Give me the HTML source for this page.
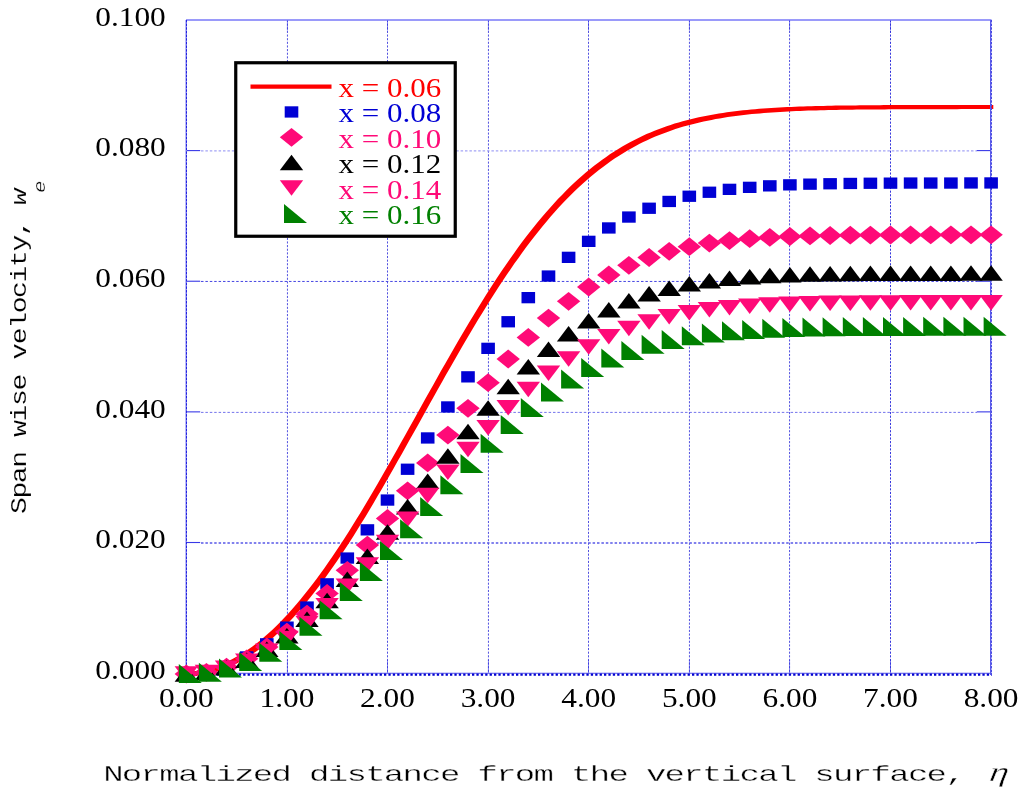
<!DOCTYPE html>
<html><head><meta charset="utf-8"><title>Span wise velocity</title>
<style>html,body{margin:0;padding:0;background:#fff}svg{display:block}text{font-family:"Liberation Serif",serif}.m{font-family:"Liberation Mono",monospace}</style></head><body>
<svg width="1024" height="794" viewBox="0 0 1024 794">
<rect width="1024" height="794" fill="#fff"/>
<g fill="none">
<line x1="287.45" y1="20" x2="287.45" y2="673" stroke="#5252e0" stroke-width="1" stroke-dasharray="2.1 1.53"/>
<line x1="387.50" y1="20" x2="387.50" y2="673" stroke="#5252e0" stroke-width="1" stroke-dasharray="2.1 1.53"/>
<line x1="488.45" y1="20" x2="488.45" y2="673" stroke="#5252e0" stroke-width="1" stroke-dasharray="2.1 1.53"/>
<line x1="588.50" y1="20" x2="588.50" y2="673" stroke="#5252e0" stroke-width="1" stroke-dasharray="2.1 1.53"/>
<line x1="689.45" y1="20" x2="689.45" y2="673" stroke="#5252e0" stroke-width="1" stroke-dasharray="2.1 1.53"/>
<line x1="789.55" y1="20" x2="789.55" y2="673" stroke="#5252e0" stroke-width="1" stroke-dasharray="2.1 1.53"/>
<line x1="890.50" y1="20" x2="890.50" y2="673" stroke="#3434dc" stroke-width="1" stroke-dasharray="2.1 1.53"/>
<line x1="201" y1="542.96" x2="977" y2="542.96" stroke="#5858e8" stroke-width="1.5" stroke-dasharray="2.5 1.9"/>
<line x1="201" y1="412.40" x2="977" y2="412.40" stroke="#6464ea" stroke-width="0.9" stroke-dasharray="2.5 1.9"/>
<line x1="201" y1="281.45" x2="977" y2="281.45" stroke="#4444e2" stroke-width="1.0" stroke-dasharray="2.5 1.9"/>
<line x1="201" y1="150.94" x2="977" y2="150.94" stroke="#a4a4f6" stroke-width="1.35" stroke-dasharray="2.5 1.9"/>
<line x1="187" y1="542.51" x2="200.2" y2="542.51" stroke="#3838e6" stroke-width="1.1"/>
<line x1="976.8" y1="542.51" x2="991" y2="542.51" stroke="#3838e6" stroke-width="1.1"/>
<line x1="187" y1="411.87" x2="200.2" y2="411.87" stroke="#3838e6" stroke-width="1.1"/>
<line x1="976.8" y1="411.87" x2="991" y2="411.87" stroke="#3838e6" stroke-width="1.1"/>
<line x1="187" y1="281.23" x2="200.2" y2="281.23" stroke="#3838e6" stroke-width="1.1"/>
<line x1="976.8" y1="281.23" x2="991" y2="281.23" stroke="#3838e6" stroke-width="1.1"/>
<line x1="187" y1="150.59" x2="200.2" y2="150.59" stroke="#3838e6" stroke-width="1.1"/>
<line x1="976.8" y1="150.59" x2="991" y2="150.59" stroke="#3838e6" stroke-width="1.1"/>
<line x1="287.45" y1="20" x2="287.45" y2="30.5" stroke="#3030e0" stroke-width="0.95" stroke-opacity="0.6"/>
<line x1="287.45" y1="660" x2="287.45" y2="673" stroke="#3030e0" stroke-width="0.95" stroke-opacity="0.6"/>
<line x1="387.50" y1="20" x2="387.50" y2="30.5" stroke="#3030e0" stroke-width="0.95" stroke-opacity="0.6"/>
<line x1="387.50" y1="660" x2="387.50" y2="673" stroke="#3030e0" stroke-width="0.95" stroke-opacity="0.6"/>
<line x1="488.45" y1="20" x2="488.45" y2="30.5" stroke="#3030e0" stroke-width="0.95" stroke-opacity="0.6"/>
<line x1="488.45" y1="660" x2="488.45" y2="673" stroke="#3030e0" stroke-width="0.95" stroke-opacity="0.6"/>
<line x1="588.50" y1="20" x2="588.50" y2="30.5" stroke="#3030e0" stroke-width="0.95" stroke-opacity="0.6"/>
<line x1="588.50" y1="660" x2="588.50" y2="673" stroke="#3030e0" stroke-width="0.95" stroke-opacity="0.6"/>
<line x1="689.45" y1="20" x2="689.45" y2="30.5" stroke="#3030e0" stroke-width="0.95" stroke-opacity="0.6"/>
<line x1="689.45" y1="660" x2="689.45" y2="673" stroke="#3030e0" stroke-width="0.95" stroke-opacity="0.6"/>
<line x1="789.55" y1="20" x2="789.55" y2="30.5" stroke="#3030e0" stroke-width="0.95" stroke-opacity="0.6"/>
<line x1="789.55" y1="660" x2="789.55" y2="673" stroke="#3030e0" stroke-width="0.95" stroke-opacity="0.6"/>
<line x1="890.50" y1="20" x2="890.50" y2="30.5" stroke="#3030e0" stroke-width="0.95" stroke-opacity="0.6"/>
<line x1="890.50" y1="660" x2="890.50" y2="673" stroke="#3030e0" stroke-width="0.95" stroke-opacity="0.6"/>
<line x1="186" y1="20" x2="991.5" y2="20" stroke="#7878f8" stroke-width="1.4"/>
<line x1="186.15" y1="20" x2="186.15" y2="674" stroke="#7676f0" stroke-width="1.3"/>
<line x1="186.5" y1="20" x2="186.5" y2="674" stroke="#2222e0" stroke-width="1.0" stroke-dasharray="2.4 1.25"/>
<line x1="186" y1="673.25" x2="992" y2="673.25" stroke="#4040e8" stroke-width="0.9"/>
<line x1="186" y1="674.6" x2="992" y2="674.6" stroke="#0000d0" stroke-width="2.2" stroke-dasharray="2.3 2.1"/>
</g>
<polygon points="183.7,676.1 183.7,671.9 187.7,671.8 191.7,671.5 195.8,671.1 199.8,670.5 203.8,669.7 207.8,668.7 211.9,667.6 215.9,666.3 219.9,664.8 223.9,663.2 228.0,661.3 232.0,659.3 236.0,657.1 240.0,654.8 244.1,652.3 248.1,649.6 252.1,646.7 256.1,643.7 260.2,640.5 264.2,637.1 268.2,633.6 272.2,629.9 276.3,626.0 280.3,622.0 284.3,617.8 288.3,613.5 292.3,609.0 296.4,604.3 300.4,599.5 304.4,594.6 308.4,589.5 312.5,584.3 316.5,579.0 320.5,573.5 324.5,567.9 328.6,562.1 332.6,556.2 336.6,550.3 340.6,544.2 344.7,538.0 348.7,531.7 352.7,525.3 356.7,518.8 360.8,512.2 364.8,505.5 368.8,498.7 372.8,491.9 376.9,485.0 380.9,478.1 384.9,471.1 388.9,464.0 392.9,456.9 397.0,449.8 401.0,442.6 405.0,435.4 409.0,428.2 413.1,421.0 417.1,413.8 421.1,406.5 425.1,399.3 429.2,392.1 433.2,384.9 437.2,377.8 441.2,370.6 445.3,363.5 449.3,356.5 453.3,349.5 457.3,342.5 461.4,335.6 465.4,328.8 469.4,322.1 473.4,315.4 477.5,308.8 481.5,302.3 485.5,295.8 489.5,289.5 493.5,283.3 497.6,277.1 501.6,271.1 505.6,265.2 509.6,259.4 513.7,253.7 517.7,248.1 521.7,242.6 525.7,237.3 529.8,232.1 533.8,227.0 537.8,222.0 541.8,217.2 545.9,212.4 549.9,207.9 553.9,203.4 557.9,199.1 562.0,194.9 566.0,190.8 570.0,186.8 574.0,183.0 578.1,179.3 582.1,175.7 586.1,172.3 590.1,169.0 594.1,165.8 598.2,162.7 602.2,159.7 606.2,156.9 610.2,154.1 614.3,151.5 618.3,149.0 622.3,146.5 626.3,144.2 630.4,142.0 634.4,139.9 638.4,137.9 642.4,136.0 646.5,134.1 650.5,132.4 654.5,130.7 658.5,129.2 662.6,127.7 666.6,126.2 670.6,124.9 674.6,123.6 678.7,122.4 682.7,121.3 686.7,120.2 690.7,119.2 694.7,118.2 698.8,117.3 702.8,116.5 706.8,115.7 710.8,114.9 714.9,114.2 718.9,113.5 722.9,112.9 726.9,112.3 731.0,111.8 735.0,111.3 739.0,110.8 743.0,110.3 747.1,109.9 751.1,109.5 755.1,109.2 759.1,108.8 763.2,108.5 767.2,108.2 771.2,108.0 775.2,107.7 779.3,107.5 783.3,107.3 787.3,107.1 791.3,106.9 795.3,106.7 799.4,106.6 803.4,106.4 807.4,106.3 811.4,106.2 815.5,106.1 819.5,106.0 823.5,105.9 827.5,105.8 831.6,105.7 835.6,105.6 839.6,105.6 843.6,105.5 847.7,105.5 851.7,105.4 855.7,105.4 859.7,105.3 863.8,105.3 867.8,105.2 871.8,105.2 875.8,105.2 879.9,105.2 883.9,105.1 887.9,105.1 891.9,105.1 895.9,105.1 900.0,105.1 904.0,105.0 908.0,105.0 912.0,105.0 916.1,105.0 920.1,105.0 924.1,105.0 928.1,105.0 932.2,105.0 936.2,105.0 940.2,105.0 944.2,105.0 948.3,105.0 952.3,105.0 956.3,104.9 960.3,104.9 964.4,104.9 968.4,104.9 972.4,104.9 976.4,104.9 980.5,104.9 984.5,104.9 988.5,104.9 993.3,104.9 993.3,109.1 989.3,109.1 985.3,109.1 981.2,109.1 977.2,109.1 973.2,109.1 969.2,109.1 965.1,109.1 961.1,109.1 957.1,109.2 953.1,109.2 949.0,109.2 945.0,109.2 941.0,109.2 937.0,109.2 932.9,109.2 928.9,109.2 924.9,109.2 920.9,109.2 916.8,109.2 912.8,109.2 908.8,109.2 904.8,109.3 900.7,109.3 896.7,109.3 892.7,109.3 888.7,109.3 884.7,109.4 880.6,109.4 876.6,109.4 872.6,109.4 868.6,109.5 864.5,109.5 860.5,109.6 856.5,109.6 852.5,109.7 848.4,109.7 844.4,109.8 840.4,109.8 836.4,109.9 832.3,110.0 828.3,110.1 824.3,110.2 820.3,110.3 816.2,110.4 812.2,110.5 808.2,110.6 804.2,110.8 800.1,110.9 796.1,111.1 792.1,111.3 788.1,111.5 784.1,111.7 780.0,111.9 776.0,112.2 772.0,112.4 768.0,112.7 763.9,113.0 759.9,113.4 755.9,113.7 751.9,114.1 747.8,114.5 743.8,115.0 739.8,115.5 735.8,116.0 731.7,116.5 727.7,117.1 723.7,117.7 719.7,118.4 715.6,119.1 711.6,119.9 707.6,120.7 703.6,121.5 699.5,122.4 695.5,123.4 691.5,124.4 687.5,125.5 683.5,126.6 679.4,127.8 675.4,129.1 671.4,130.4 667.4,131.9 663.3,133.4 659.3,134.9 655.3,136.6 651.3,138.3 647.2,140.2 643.2,142.1 639.2,144.1 635.2,146.2 631.1,148.4 627.1,150.7 623.1,153.2 619.1,155.7 615.0,158.3 611.0,161.1 607.0,163.9 603.0,166.9 598.9,170.0 594.9,173.2 590.9,176.5 586.9,179.9 582.9,183.5 578.8,187.2 574.8,191.0 570.8,195.0 566.8,199.1 562.7,203.3 558.7,207.6 554.7,212.1 550.7,216.6 546.6,221.4 542.6,226.2 538.6,231.2 534.6,236.3 530.5,241.5 526.5,246.8 522.5,252.3 518.5,257.9 514.4,263.6 510.4,269.4 506.4,275.3 502.4,281.3 498.3,287.5 494.3,293.7 490.3,300.0 486.3,306.5 482.3,313.0 478.2,319.6 474.2,326.3 470.2,333.0 466.2,339.8 462.1,346.7 458.1,353.7 454.1,360.7 450.1,367.7 446.0,374.8 442.0,382.0 438.0,389.1 434.0,396.3 429.9,403.5 425.9,410.7 421.9,418.0 417.9,425.2 413.8,432.4 409.8,439.6 405.8,446.8 401.8,454.0 397.7,461.1 393.7,468.2 389.7,475.3 385.7,482.3 381.7,489.2 377.6,496.1 373.6,502.9 369.6,509.7 365.6,516.4 361.5,523.0 357.5,529.5 353.5,535.9 349.5,542.2 345.4,548.4 341.4,554.5 337.4,560.4 333.4,566.3 329.3,572.1 325.3,577.7 321.3,583.2 317.3,588.5 313.2,593.7 309.2,598.8 305.2,603.7 301.2,608.5 297.1,613.2 293.1,617.7 289.1,622.0 285.1,626.2 281.1,630.2 277.0,634.1 273.0,637.8 269.0,641.3 265.0,644.7 260.9,647.9 256.9,650.9 252.9,653.8 248.9,656.5 244.8,659.0 240.8,661.3 236.8,663.5 232.8,665.5 228.7,667.4 224.7,669.0 220.7,670.5 216.7,671.8 212.6,672.9 208.6,673.9 204.6,674.7 200.6,675.3 196.5,675.7 192.5,676.0 188.5,676.1" fill="#ff0000"/>
<line x1="990.6" y1="20" x2="990.6" y2="675" stroke="#5a5aea" stroke-width="1.2" fill="none"/>
<line x1="991.5" y1="20" x2="991.5" y2="675" stroke="#4848e2" stroke-width="1.0" stroke-dasharray="2.4 1.25" fill="none"/>
<g fill="#0000d4">
<rect x="179.5" y="668.4" width="13.6" height="11.3"/>
<rect x="199.6" y="666.5" width="13.6" height="11.3"/>
<rect x="219.7" y="660.8" width="13.6" height="11.3"/>
<rect x="239.9" y="651.3" width="13.6" height="11.3"/>
<rect x="260.0" y="638.2" width="13.6" height="11.3"/>
<rect x="280.1" y="621.5" width="13.6" height="11.3"/>
<rect x="300.2" y="601.4" width="13.6" height="11.3"/>
<rect x="320.3" y="578.2" width="13.6" height="11.3"/>
<rect x="340.5" y="552.4" width="13.6" height="11.3"/>
<rect x="360.6" y="524.2" width="13.6" height="11.3"/>
<rect x="380.7" y="494.4" width="13.6" height="11.3"/>
<rect x="400.8" y="463.6" width="13.6" height="11.3"/>
<rect x="420.9" y="432.3" width="13.6" height="11.3"/>
<rect x="441.1" y="401.3" width="13.6" height="11.3"/>
<rect x="461.2" y="371.2" width="13.6" height="11.3"/>
<rect x="481.3" y="342.7" width="13.6" height="11.3"/>
<rect x="501.4" y="316.1" width="13.6" height="11.3"/>
<rect x="521.5" y="292.0" width="13.6" height="11.3"/>
<rect x="541.7" y="270.4" width="13.6" height="11.3"/>
<rect x="561.8" y="251.7" width="13.6" height="11.3"/>
<rect x="581.9" y="235.7" width="13.6" height="11.3"/>
<rect x="602.0" y="222.3" width="13.6" height="11.3"/>
<rect x="622.1" y="211.4" width="13.6" height="11.3"/>
<rect x="642.3" y="202.6" width="13.6" height="11.3"/>
<rect x="662.4" y="195.8" width="13.6" height="11.3"/>
<rect x="682.5" y="190.6" width="13.6" height="11.3"/>
<rect x="702.6" y="186.6" width="13.6" height="11.3"/>
<rect x="722.7" y="183.7" width="13.6" height="11.3"/>
<rect x="742.9" y="181.7" width="13.6" height="11.3"/>
<rect x="763.0" y="180.2" width="13.6" height="11.3"/>
<rect x="783.1" y="179.2" width="13.6" height="11.3"/>
<rect x="803.2" y="178.5" width="13.6" height="11.3"/>
<rect x="823.3" y="178.1" width="13.6" height="11.3"/>
<rect x="843.5" y="177.8" width="13.6" height="11.3"/>
<rect x="863.6" y="177.6" width="13.6" height="11.3"/>
<rect x="883.7" y="177.5" width="13.6" height="11.3"/>
<rect x="903.8" y="177.4" width="13.6" height="11.3"/>
<rect x="923.9" y="177.4" width="13.6" height="11.3"/>
<rect x="944.1" y="177.4" width="13.6" height="11.3"/>
<rect x="964.2" y="177.3" width="13.6" height="11.3"/>
<rect x="984.3" y="177.3" width="13.6" height="11.3"/>
</g>
<g fill="#ff0a78">
<polygon points="174.6,674.0 186.3,664.6 198.0,674.0 186.3,683.4"/>
<polygon points="194.7,672.3 206.4,662.9 218.1,672.3 206.4,681.7"/>
<polygon points="214.8,667.2 226.5,657.8 238.2,667.2 226.5,676.6"/>
<polygon points="235.0,658.8 246.7,649.4 258.4,658.8 246.7,668.2"/>
<polygon points="255.1,647.0 266.8,637.6 278.5,647.0 266.8,656.4"/>
<polygon points="275.2,632.1 286.9,622.7 298.6,632.1 286.9,641.5"/>
<polygon points="295.3,614.1 307.0,604.7 318.7,614.1 307.0,623.5"/>
<polygon points="315.4,593.4 327.1,584.0 338.8,593.4 327.1,602.8"/>
<polygon points="335.6,570.3 347.3,560.9 359.0,570.3 347.3,579.7"/>
<polygon points="355.7,545.1 367.4,535.7 379.1,545.1 367.4,554.5"/>
<polygon points="375.8,518.4 387.5,509.0 399.2,518.4 387.5,527.8"/>
<polygon points="395.9,490.8 407.6,481.4 419.3,490.8 407.6,500.2"/>
<polygon points="416.0,462.9 427.7,453.5 439.4,462.9 427.7,472.3"/>
<polygon points="436.2,435.1 447.9,425.7 459.6,435.1 447.9,444.5"/>
<polygon points="456.3,408.3 468.0,398.9 479.7,408.3 468.0,417.7"/>
<polygon points="476.4,382.7 488.1,373.3 499.8,382.7 488.1,392.1"/>
<polygon points="496.5,359.0 508.2,349.6 519.9,359.0 508.2,368.4"/>
<polygon points="516.6,337.4 528.3,328.0 540.0,337.4 528.3,346.8"/>
<polygon points="536.8,318.1 548.5,308.7 560.2,318.1 548.5,327.5"/>
<polygon points="556.9,301.3 568.6,291.9 580.3,301.3 568.6,310.7"/>
<polygon points="577.0,287.0 588.7,277.6 600.4,287.0 588.7,296.4"/>
<polygon points="597.1,275.0 608.8,265.6 620.5,275.0 608.8,284.4"/>
<polygon points="617.2,265.3 628.9,255.9 640.6,265.3 628.9,274.7"/>
<polygon points="637.4,257.5 649.1,248.1 660.8,257.5 649.1,266.9"/>
<polygon points="657.5,251.3 669.2,241.9 680.9,251.3 669.2,260.7"/>
<polygon points="677.6,246.7 689.3,237.3 701.0,246.7 689.3,256.1"/>
<polygon points="697.7,243.1 709.4,233.7 721.1,243.1 709.4,252.5"/>
<polygon points="717.8,240.6 729.5,231.2 741.2,240.6 729.5,250.0"/>
<polygon points="738.0,238.7 749.7,229.3 761.4,238.7 749.7,248.1"/>
<polygon points="758.1,237.4 769.8,228.0 781.5,237.4 769.8,246.8"/>
<polygon points="778.2,236.5 789.9,227.1 801.6,236.5 789.9,245.9"/>
<polygon points="798.3,235.9 810.0,226.5 821.7,235.9 810.0,245.3"/>
<polygon points="818.4,235.5 830.1,226.1 841.8,235.5 830.1,244.9"/>
<polygon points="838.6,235.2 850.3,225.8 862.0,235.2 850.3,244.6"/>
<polygon points="858.7,235.1 870.4,225.7 882.1,235.1 870.4,244.5"/>
<polygon points="878.8,235.0 890.5,225.6 902.2,235.0 890.5,244.4"/>
<polygon points="898.9,234.9 910.6,225.5 922.3,234.9 910.6,244.3"/>
<polygon points="919.0,234.9 930.7,225.5 942.4,234.9 930.7,244.3"/>
<polygon points="939.2,234.8 950.9,225.4 962.6,234.8 950.9,244.2"/>
<polygon points="959.3,234.8 971.0,225.4 982.7,234.8 971.0,244.2"/>
<polygon points="979.4,234.8 991.1,225.4 1002.8,234.8 991.1,244.2"/>
</g>
<g fill="#000">
<polygon points="174.6,681.8 186.3,666.2 198.0,681.8"/>
<polygon points="194.7,680.2 206.4,664.7 218.1,680.2"/>
<polygon points="214.8,675.6 226.5,660.1 238.2,675.6"/>
<polygon points="235.0,667.9 246.7,652.4 258.4,667.9"/>
<polygon points="255.1,657.1 266.8,641.6 278.5,657.1"/>
<polygon points="275.2,643.5 286.9,628.0 298.6,643.5"/>
<polygon points="295.3,627.1 307.0,611.6 318.7,627.1"/>
<polygon points="315.4,608.2 327.1,592.7 338.8,608.2"/>
<polygon points="335.6,587.0 347.3,571.5 359.0,587.0"/>
<polygon points="355.7,564.1 367.4,548.6 379.1,564.1"/>
<polygon points="375.8,539.7 387.5,524.2 399.2,539.7"/>
<polygon points="395.9,514.5 407.6,499.0 419.3,514.5"/>
<polygon points="416.0,489.0 427.7,473.5 439.4,489.0"/>
<polygon points="436.2,463.7 447.9,448.2 459.6,463.7"/>
<polygon points="456.3,439.2 468.0,423.7 479.7,439.2"/>
<polygon points="476.4,415.8 488.1,400.3 499.8,415.8"/>
<polygon points="496.5,394.2 508.2,378.7 519.9,394.2"/>
<polygon points="516.6,374.4 528.3,358.9 540.0,374.4"/>
<polygon points="536.8,356.9 548.5,341.4 560.2,356.9"/>
<polygon points="556.9,341.5 568.6,326.0 580.3,341.5"/>
<polygon points="577.0,328.5 588.7,313.0 600.4,328.5"/>
<polygon points="597.1,317.6 608.8,302.1 620.5,317.6"/>
<polygon points="617.2,308.6 628.9,293.1 640.6,308.6"/>
<polygon points="637.4,301.5 649.1,286.0 660.8,301.5"/>
<polygon points="657.5,295.9 669.2,280.4 680.9,295.9"/>
<polygon points="677.6,291.6 689.3,276.1 701.0,291.6"/>
<polygon points="697.7,288.4 709.4,272.9 721.1,288.4"/>
<polygon points="717.8,286.1 729.5,270.6 741.2,286.1"/>
<polygon points="738.0,284.4 749.7,268.9 761.4,284.4"/>
<polygon points="758.1,283.2 769.8,267.7 781.5,283.2"/>
<polygon points="778.2,282.4 789.9,266.9 801.6,282.4"/>
<polygon points="798.3,281.8 810.0,266.3 821.7,281.8"/>
<polygon points="818.4,281.4 830.1,265.9 841.8,281.4"/>
<polygon points="838.6,281.2 850.3,265.7 862.0,281.2"/>
<polygon points="858.7,281.1 870.4,265.6 882.1,281.1"/>
<polygon points="878.8,281.0 890.5,265.5 902.2,281.0"/>
<polygon points="898.9,280.9 910.6,265.4 922.3,280.9"/>
<polygon points="919.0,280.9 930.7,265.4 942.4,280.9"/>
<polygon points="939.2,280.9 950.9,265.4 962.6,280.9"/>
<polygon points="959.3,280.8 971.0,265.3 982.7,280.8"/>
<polygon points="979.4,280.8 991.1,265.3 1002.8,280.8"/>
</g>
<g fill="#ff0a78">
<polygon points="174.6,666.2 186.3,681.8 198.0,666.2"/>
<polygon points="194.7,664.8 206.4,680.3 218.1,664.8"/>
<polygon points="214.8,660.5 226.5,676.0 238.2,660.5"/>
<polygon points="235.0,653.4 246.7,668.9 258.4,653.4"/>
<polygon points="255.1,643.5 266.8,659.0 278.5,643.5"/>
<polygon points="275.2,630.8 286.9,646.3 298.6,630.8"/>
<polygon points="295.3,615.7 307.0,631.2 318.7,615.7"/>
<polygon points="315.4,598.1 327.1,613.6 338.8,598.1"/>
<polygon points="335.6,578.6 347.3,594.1 359.0,578.6"/>
<polygon points="355.7,557.3 367.4,572.8 379.1,557.3"/>
<polygon points="375.8,534.8 387.5,550.3 399.2,534.8"/>
<polygon points="395.9,511.4 407.6,526.9 419.3,511.4"/>
<polygon points="416.0,487.8 427.7,503.3 439.4,487.8"/>
<polygon points="436.2,464.4 447.9,479.9 459.6,464.4"/>
<polygon points="456.3,441.7 468.0,457.2 479.7,441.7"/>
<polygon points="476.4,420.1 488.1,435.6 499.8,420.1"/>
<polygon points="496.5,400.0 508.2,415.5 519.9,400.0"/>
<polygon points="516.6,381.7 528.3,397.2 540.0,381.7"/>
<polygon points="536.8,365.5 548.5,381.0 560.2,365.5"/>
<polygon points="556.9,351.3 568.6,366.8 580.3,351.3"/>
<polygon points="577.0,339.2 588.7,354.7 600.4,339.2"/>
<polygon points="597.1,329.1 608.8,344.6 620.5,329.1"/>
<polygon points="617.2,320.8 628.9,336.3 640.6,320.8"/>
<polygon points="637.4,314.2 649.1,329.7 660.8,314.2"/>
<polygon points="657.5,309.0 669.2,324.5 680.9,309.0"/>
<polygon points="677.6,305.1 689.3,320.6 701.0,305.1"/>
<polygon points="697.7,302.1 709.4,317.6 721.1,302.1"/>
<polygon points="717.8,299.9 729.5,315.4 741.2,299.9"/>
<polygon points="738.0,298.4 749.7,313.9 761.4,298.4"/>
<polygon points="758.1,297.3 769.8,312.8 781.5,297.3"/>
<polygon points="778.2,296.5 789.9,312.0 801.6,296.5"/>
<polygon points="798.3,296.0 810.0,311.5 821.7,296.0"/>
<polygon points="818.4,295.6 830.1,311.1 841.8,295.6"/>
<polygon points="838.6,295.4 850.3,310.9 862.0,295.4"/>
<polygon points="858.7,295.3 870.4,310.8 882.1,295.3"/>
<polygon points="878.8,295.2 890.5,310.7 902.2,295.2"/>
<polygon points="898.9,295.1 910.6,310.6 922.3,295.1"/>
<polygon points="919.0,295.1 930.7,310.6 942.4,295.1"/>
<polygon points="939.2,295.1 950.9,310.6 962.6,295.1"/>
<polygon points="959.3,295.1 971.0,310.6 982.7,295.1"/>
<polygon points="979.4,295.1 991.1,310.6 1002.8,295.1"/>
</g>
<g fill="#008000">
<polygon points="178.8,664.0 178.8,683.0 201.8,683.0"/>
<polygon points="198.9,662.7 198.9,681.7 221.9,681.7"/>
<polygon points="219.0,658.6 219.0,677.6 242.0,677.6"/>
<polygon points="239.2,652.0 239.2,671.0 262.2,671.0"/>
<polygon points="259.3,642.7 259.3,661.7 282.3,661.7"/>
<polygon points="279.4,630.9 279.4,649.9 302.4,649.9"/>
<polygon points="299.5,616.7 299.5,635.7 322.5,635.7"/>
<polygon points="319.6,600.3 319.6,619.3 342.6,619.3"/>
<polygon points="339.8,582.0 339.8,601.0 362.8,601.0"/>
<polygon points="359.9,562.1 359.9,581.1 382.9,581.1"/>
<polygon points="380.0,541.0 380.0,560.0 403.0,560.0"/>
<polygon points="400.1,519.2 400.1,538.2 423.1,538.2"/>
<polygon points="420.2,497.1 420.2,516.1 443.2,516.1"/>
<polygon points="440.4,475.2 440.4,494.2 463.4,494.2"/>
<polygon points="460.5,453.9 460.5,472.9 483.5,472.9"/>
<polygon points="480.6,433.7 480.6,452.7 503.6,452.7"/>
<polygon points="500.7,414.9 500.7,433.9 523.7,433.9"/>
<polygon points="520.8,397.9 520.8,416.9 543.8,416.9"/>
<polygon points="541.0,382.6 541.0,401.6 564.0,401.6"/>
<polygon points="561.1,369.4 561.1,388.4 584.1,388.4"/>
<polygon points="581.2,358.1 581.2,377.1 604.2,377.1"/>
<polygon points="601.3,348.6 601.3,367.6 624.3,367.6"/>
<polygon points="621.4,340.9 621.4,359.9 644.4,359.9"/>
<polygon points="641.6,334.7 641.6,353.7 664.6,353.7"/>
<polygon points="661.7,329.9 661.7,348.9 684.7,348.9"/>
<polygon points="681.8,326.2 681.8,345.2 704.8,345.2"/>
<polygon points="701.9,323.4 701.9,342.4 724.9,342.4"/>
<polygon points="722.0,321.3 722.0,340.3 745.0,340.3"/>
<polygon points="742.2,319.9 742.2,338.9 765.2,338.9"/>
<polygon points="762.3,318.8 762.3,337.8 785.3,337.8"/>
<polygon points="782.4,318.1 782.4,337.1 805.4,337.1"/>
<polygon points="802.5,317.6 802.5,336.6 825.5,336.6"/>
<polygon points="822.6,317.3 822.6,336.3 845.6,336.3"/>
<polygon points="842.8,317.1 842.8,336.1 865.8,336.1"/>
<polygon points="862.9,317.0 862.9,336.0 885.9,336.0"/>
<polygon points="883.0,316.9 883.0,335.9 906.0,335.9"/>
<polygon points="903.1,316.9 903.1,335.9 926.1,335.9"/>
<polygon points="923.2,316.8 923.2,335.8 946.2,335.8"/>
<polygon points="943.4,316.8 943.4,335.8 966.4,335.8"/>
<polygon points="963.5,316.8 963.5,335.8 986.5,335.8"/>
<polygon points="983.6,316.8 983.6,335.8 1006.6,335.8"/>
</g>
<rect x="235.75" y="62.75" width="219.5" height="173.5" fill="#fff" stroke="#000" stroke-width="3.2"/>
<line x1="250.5" y1="86.7" x2="331.5" y2="86.7" stroke="#ff0000" stroke-width="4.2"/>
<g fill="#0000d4"><rect x="284.7" y="106.3" width="13.6" height="11.3"/></g>
<g fill="#ff0a78"><polygon points="279.8,137.3 291.5,127.9 303.2,137.3 291.5,146.7"/></g>
<g fill="#000"><polygon points="279.8,170.2 291.5,154.8 303.2,170.2"/></g>
<g fill="#ff0a78"><polygon points="279.8,180.2 291.5,195.8 303.2,180.2"/></g>
<g fill="#008000"><polygon points="284.0,204.0 284.0,223.0 307.0,223.0"/></g>
<text transform="translate(338.50,96.50) scale(1.17,1)" font-size="26.5" fill="#ff0000" text-anchor="start">x = 0.06</text>
<text transform="translate(338.50,122.00) scale(1.17,1)" font-size="26.5" fill="#0000d4" text-anchor="start">x = 0.08</text>
<text transform="translate(338.50,147.50) scale(1.17,1)" font-size="26.5" fill="#ff0a78" text-anchor="start">x = 0.10</text>
<text transform="translate(338.50,173.00) scale(1.17,1)" font-size="26.5" fill="#000" text-anchor="start">x = 0.12</text>
<text transform="translate(338.50,198.50) scale(1.17,1)" font-size="26.5" fill="#ff0a78" text-anchor="start">x = 0.14</text>
<text transform="translate(338.50,224.00) scale(1.17,1)" font-size="26.5" fill="#008000" text-anchor="start">x = 0.16</text>
<text transform="translate(165.70,678.80) scale(1.182,1)" font-size="26.5" fill="#000" text-anchor="end">0.000</text>
<text transform="translate(165.70,548.16) scale(1.182,1)" font-size="26.5" fill="#000" text-anchor="end">0.020</text>
<text transform="translate(165.70,417.52) scale(1.182,1)" font-size="26.5" fill="#000" text-anchor="end">0.040</text>
<text transform="translate(165.70,286.88) scale(1.182,1)" font-size="26.5" fill="#000" text-anchor="end">0.060</text>
<text transform="translate(165.70,156.24) scale(1.182,1)" font-size="26.5" fill="#000" text-anchor="end">0.080</text>
<text transform="translate(165.70,26.00) scale(1.182,1)" font-size="26.5" fill="#000" text-anchor="end">0.100</text>
<text transform="translate(186.30,706.70) scale(1.182,1)" font-size="26.5" fill="#000" text-anchor="middle">0.00</text>
<text transform="translate(286.90,706.70) scale(1.182,1)" font-size="26.5" fill="#000" text-anchor="middle">1.00</text>
<text transform="translate(387.50,706.70) scale(1.182,1)" font-size="26.5" fill="#000" text-anchor="middle">2.00</text>
<text transform="translate(488.10,706.70) scale(1.182,1)" font-size="26.5" fill="#000" text-anchor="middle">3.00</text>
<text transform="translate(588.70,706.70) scale(1.182,1)" font-size="26.5" fill="#000" text-anchor="middle">4.00</text>
<text transform="translate(689.30,706.70) scale(1.182,1)" font-size="26.5" fill="#000" text-anchor="middle">5.00</text>
<text transform="translate(789.90,706.70) scale(1.182,1)" font-size="26.5" fill="#000" text-anchor="middle">6.00</text>
<text transform="translate(890.50,706.70) scale(1.182,1)" font-size="26.5" fill="#000" text-anchor="middle">7.00</text>
<text transform="translate(991.10,706.70) scale(1.182,1)" font-size="26.5" fill="#000" text-anchor="middle">8.00</text>
<text class="m" transform="translate(103.14,781) scale(1.498,1)" font-size="22.7" letter-spacing="-1.127" fill="#000" stroke="#fff" stroke-width="0.32" xml:space="preserve">Normalized distance from the vertical surface,</text>
<text transform="translate(988.6,781) scale(1.42,1) skewX(-6)" font-size="27.4" font-style="italic" fill="#000" stroke="#fff" stroke-width="0.4">η</text>
<text class="m" transform="translate(26.2,514.01) rotate(-90) scale(1.275,1)" font-size="22" letter-spacing="-1.085" fill="#000" stroke="#fff" stroke-width="0.12" xml:space="preserve">Span wise velocity, <tspan font-style="italic">w</tspan></text>
<text class="m" transform="translate(45.1,193) rotate(-90) scale(1.2,1)" font-size="17.2" font-style="italic" fill="#000" stroke="#fff" stroke-width="0.32">e</text>
</svg></body></html>
